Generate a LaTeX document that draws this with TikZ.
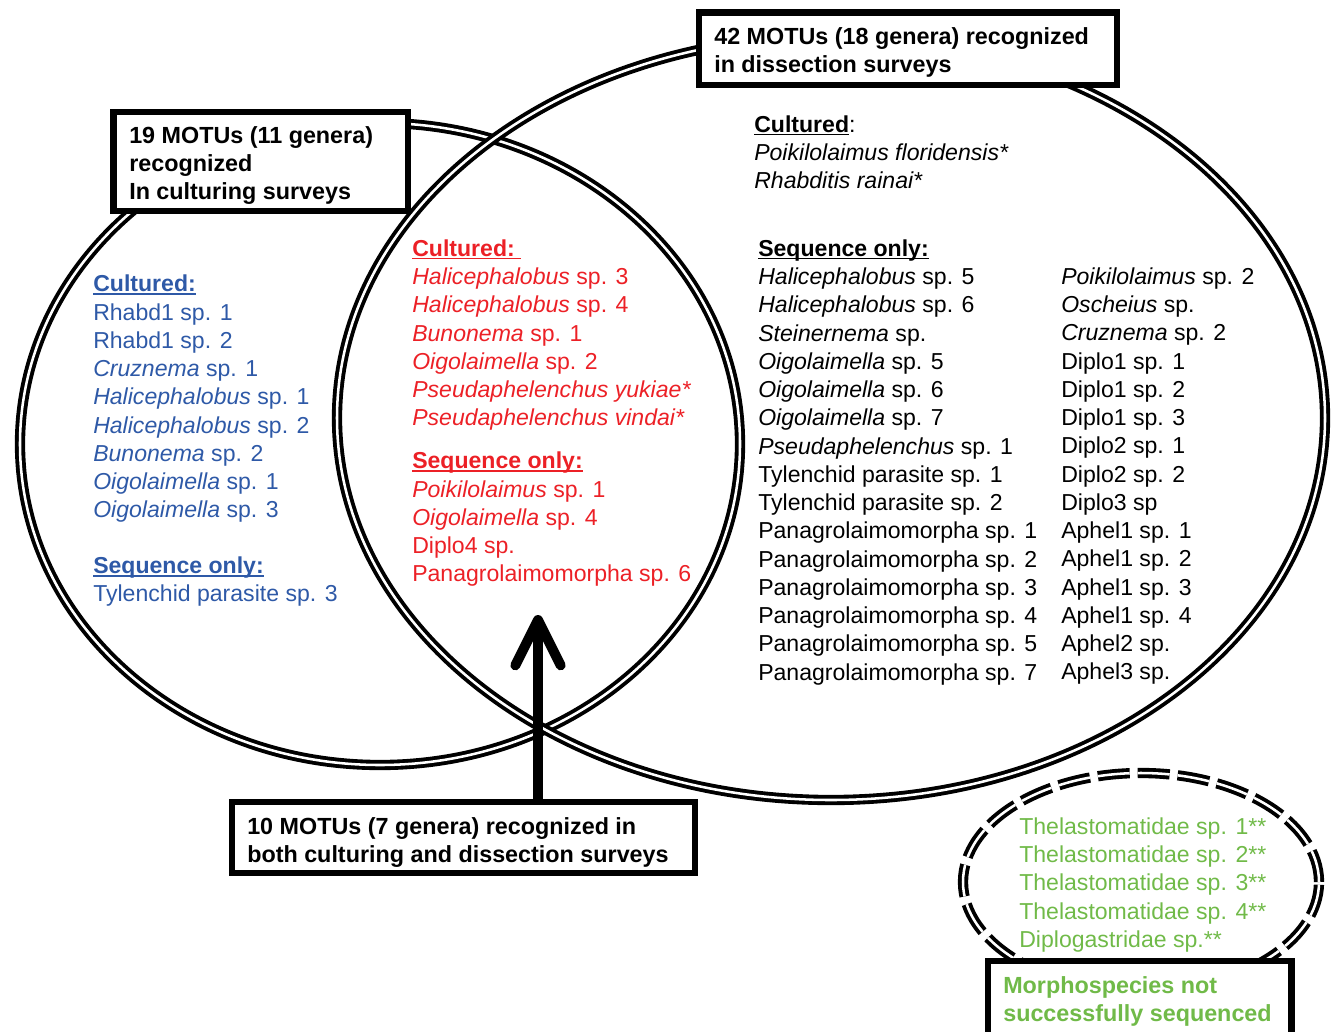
\documentclass[tikz,border=0pt]{standalone}
\usepackage{fontspec}
\setmainfont{Liberation Sans}
\usetikzlibrary{arrows.meta}
\definecolor{blueT}{RGB}{46,89,167}
\definecolor{redT}{RGB}{236,32,38}
\definecolor{greenT}{RGB}{112,186,72}
\newcommand\ulhead[1]{\setbox0\hbox{#1}\rlap{\rule[-2.4pt]{\wd0}{1.4pt}}\box0}
\begin{document}
\begin{tikzpicture}[x=0.75pt,y=-0.75pt,
  txt/.style={anchor=north west, inner sep=0pt, align=left, font=\fontsize{17.3pt}{21.2pt}\selectfont},
  boxtxt/.style={anchor=north west, inner sep=0pt, align=left, font=\fontsize{17.5pt}{21.2pt}\selectfont\bfseries},
  frame/.style={draw, line width=4.9pt, fill=white, inner sep=0pt},
  venn/.style={draw, line width=2.9pt, double=white, double distance=1.9pt},
  bigarrow/.style={line width=7.5pt, -{Straight Barb[round, length=34pt, width=34pt]}}]
\useasboundingbox (0,0) rectangle (1334,1031);
% Venn ellipses
\draw[venn] (380,444) ellipse (270pt and 240.75pt);
\draw[venn] (831,418) ellipse (370.5pt and 286.5pt);
\draw[venn, dash pattern=on 24pt off 6pt] (1141,882) ellipse (133.5pt and 81.75pt);
% boxes
\node[frame, minimum width=313.5pt, minimum height=54.4pt] (box42) at (908,48.75) {};
\node[frame, minimum width=220.9pt, minimum height=74.25pt] (box19) at (260.75,161.5) {};
\node[frame, minimum width=347.25pt, minimum height=53.25pt] (box10) at (463.5,837.5) {};
\node[frame, minimum width=227.6pt, minimum height=63pt] (boxM) at (1139.75,1003) {};
% box texts
\node[boxtxt] (t42) at (714,24.2) {\strut 42 MOTUs (18 genera) recognized\\in dissection surveys};
\node[boxtxt] (t19) at (129,123.2) {\strut 19 MOTUs (11 genera)\\recognized\\In culturing surveys};
\node[boxtxt] (t10) at (247,814.2) {\strut 10 MOTUs (7 genera) recognized in\\both culturing and dissection surveys};
\node[boxtxt, text=greenT] (tM) at (1003,973.2) {\strut Morphospecies not\\successfully sequenced};
% arrow
\coordinate (tip) at (538,615);
\draw[bigarrow] (tip |- box10.north) -- (tip);
% blue list
\node[txt, text=blueT] (blue) at (93,271.7) {\strut\ulhead{\textbf{Cultured:}}\\
Rhabd1 sp. 1\\
Rhabd1 sp. 2\\
\textit{Cruznema} sp. 1\\
\textit{Halicephalobus} sp. 1\\
\textit{Halicephalobus} sp. 2\\
\textit{Bunonema} sp. 2\\
\textit{Oigolaimella} sp. 1\\
\textit{Oigolaimella} sp. 3\\[20.4pt]
\ulhead{\textbf{Sequence only:}}\\
Tylenchid parasite sp. 3};
% red list
\node[txt, text=redT] (red) at (412,236.2) {\strut\ulhead{\textbf{Cultured:\ }}\\
\textit{Halicephalobus} sp. 3\\
\textit{Halicephalobus} sp. 4\\
\textit{Bunonema} sp. 1\\
\textit{Oigolaimella} sp. 2\\
\textit{Pseudaphelenchus yukiae*}\\
\textit{Pseudaphelenchus vindai*}\\[11.1pt]
\ulhead{\textbf{Sequence only:}}\\
\textit{Poikilolaimus} sp. 1\\
\textit{Oigolaimella} sp. 4\\
Diplo4 sp.\\
Panagrolaimomorpha sp. 6};
% black lists
\node[txt] (cultR) at (754,112.2) {\strut\ulhead{\textbf{Cultured}}:\\
\textit{Poikilolaimus floridensis*}\\
\textit{Rhabditis rainai*}};
\node[txt] (seqR1) at (758,236.2) {\strut\ulhead{\textbf{Sequence only:}}\\
\textit{Halicephalobus} sp. 5\\
\textit{Halicephalobus} sp. 6\\
\textit{Steinernema} sp.\\
\textit{Oigolaimella} sp. 5\\
\textit{Oigolaimella} sp. 6\\
\textit{Oigolaimella} sp. 7\\
\textit{Pseudaphelenchus} sp. 1\\
Tylenchid parasite sp. 1\\
Tylenchid parasite sp. 2\\
Panagrolaimomorpha sp. 1\\
Panagrolaimomorpha sp. 2\\
Panagrolaimomorpha sp. 3\\
Panagrolaimomorpha sp. 4\\
Panagrolaimomorpha sp. 5\\
Panagrolaimomorpha sp. 7};
\node[txt] (seqR2) at (1061,264.2) {\strut\textit{Poikilolaimus} sp. 2\\
\textit{Oscheius} sp.\\
\textit{Cruznema} sp. 2\\
Diplo1 sp. 1\\
Diplo1 sp. 2\\
Diplo1 sp. 3\\
Diplo2 sp. 1\\
Diplo2 sp. 2\\
Diplo3 sp\\
Aphel1 sp. 1\\
Aphel1 sp. 2\\
Aphel1 sp. 3\\
Aphel1 sp. 4\\
Aphel2 sp.\\
Aphel3 sp.};
% green list
\node[txt, text=greenT] (green) at (1019,814.2) {\strut Thelastomatidae sp. 1**\\
Thelastomatidae sp. 2**\\
Thelastomatidae sp. 3**\\
Thelastomatidae sp. 4**\\
Diplogastridae sp.**};
\end{tikzpicture}
\end{document}
